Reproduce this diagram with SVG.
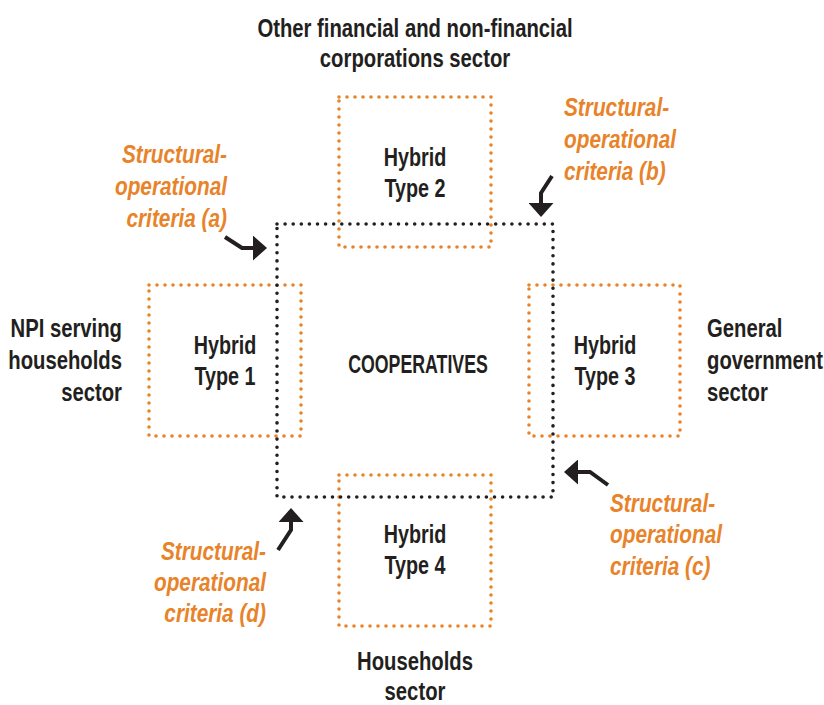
<svg xmlns="http://www.w3.org/2000/svg" width="824" height="705" viewBox="0 0 824 705">
<style>
.t{font-family:"Liberation Sans",Arial,sans-serif;font-weight:bold;font-size:26px;fill:#231F20}
.o{font-family:"Liberation Sans",Arial,sans-serif;font-weight:bold;font-style:italic;font-size:26px;fill:#E8832A}
.ob{fill:none;stroke:#E8832A;stroke-width:3.6;stroke-linecap:round;stroke-dasharray:0 8}
.bb{fill:none;stroke:#231F20;stroke-width:3.6;stroke-linecap:round;stroke-dasharray:0 8.1}
.ar{fill:none;stroke:#231F20;stroke-width:4;stroke-linejoin:miter}
</style>
<defs>
<marker id="head" viewBox="0 0 14 25" refX="0" refY="12.5" markerWidth="14" markerHeight="25" markerUnits="userSpaceOnUse" orient="auto">
<path d="M0,0 L14,12.5 L0,25 z" fill="#231F20"/>
</marker>
</defs>
<rect width="824" height="705" fill="#FFFFFF"/>

<g id="hybrid2">
<rect class="ob" x="339" y="97" width="152" height="150"/>
<text class="t" text-anchor="middle" transform="translate(415,166) scale(0.76,1)"><tspan x="0">Hybrid</tspan><tspan x="0" dy="31.5">Type 2</tspan></text>
</g>
<g id="hybrid1">
<rect class="ob" x="149" y="285" width="152" height="151"/>
<text class="t" text-anchor="middle" transform="translate(225,354) scale(0.76,1)"><tspan x="0">Hybrid</tspan><tspan x="0" dy="31.5">Type 1</tspan></text>
</g>
<g id="hybrid3">
<rect class="ob" x="529" y="285" width="151" height="151"/>
<text class="t" text-anchor="middle" transform="translate(605,354) scale(0.76,1)"><tspan x="0">Hybrid</tspan><tspan x="0" dy="31.5">Type 3</tspan></text>
</g>
<g id="hybrid4">
<rect class="ob" x="339" y="475" width="152" height="151"/>
<text class="t" text-anchor="middle" transform="translate(415,543) scale(0.76,1)"><tspan x="0">Hybrid</tspan><tspan x="0" dy="31.5">Type 4</tspan></text>
</g>
<g id="cooperatives">
<rect class="bb" x="277" y="224" width="276" height="273"/>
<text class="t" text-anchor="middle" transform="translate(418,373) scale(0.71,1)" style="font-size:25px">COOPERATIVES</text>
</g>

<g id="sector-corporations">
<text class="t" text-anchor="middle" transform="translate(415,37) scale(0.78,1)"><tspan x="0">Other financial and non-financial</tspan><tspan x="0" dy="30.5">corporations sector</tspan></text>
</g>
<g id="sector-npi">
<text class="t" text-anchor="end" transform="translate(122,337) scale(0.78,1)"><tspan x="0">NPI serving</tspan><tspan x="0" dy="32">households</tspan><tspan x="0" dy="32">sector</tspan></text>
</g>
<g id="sector-government">
<text class="t" text-anchor="start" transform="translate(707,337) scale(0.78,1)"><tspan x="0">General</tspan><tspan x="0" dy="32">government</tspan><tspan x="0" dy="32">sector</tspan></text>
</g>
<g id="sector-households">
<text class="t" text-anchor="middle" transform="translate(415,670) scale(0.78,1)"><tspan x="0">Households</tspan><tspan x="0" dy="30">sector</tspan></text>
</g>

<g id="criteria-a">
<text class="o" text-anchor="end" transform="translate(227,163) scale(0.8,1)"><tspan x="0">Structural-</tspan><tspan x="0" dy="32">operational</tspan><tspan x="0" dy="32">criteria (a)</tspan></text>
</g>
<g id="criteria-b">
<text class="o" text-anchor="start" transform="translate(564,116) scale(0.8,1)"><tspan x="0">Structural-</tspan><tspan x="0" dy="32">operational</tspan><tspan x="0" dy="32">criteria (b)</tspan></text>
</g>
<g id="criteria-c">
<text class="o" text-anchor="start" transform="translate(610,512) scale(0.8,1)"><tspan x="0">Structural-</tspan><tspan x="0" dy="31.5">operational</tspan><tspan x="0" dy="31.5">criteria (c)</tspan></text>
</g>
<g id="criteria-d">
<text class="o" text-anchor="end" transform="translate(266,560) scale(0.8,1)"><tspan x="0">Structural-</tspan><tspan x="0" dy="31">operational</tspan><tspan x="0" dy="31">criteria (d)</tspan></text>
</g>

<g id="connectors">
<path class="ar" d="M225,237 L242,248 L253,248" marker-end="url(#head)"/>
<path class="ar" d="M552,176 L541,193 L541,203" marker-end="url(#head)"/>
<path class="ar" d="M608,485 L590,472 L578,472" marker-end="url(#head)"/>
<path class="ar" d="M278,550 L291,530 L291,522" marker-end="url(#head)"/>
</g>
</svg>
